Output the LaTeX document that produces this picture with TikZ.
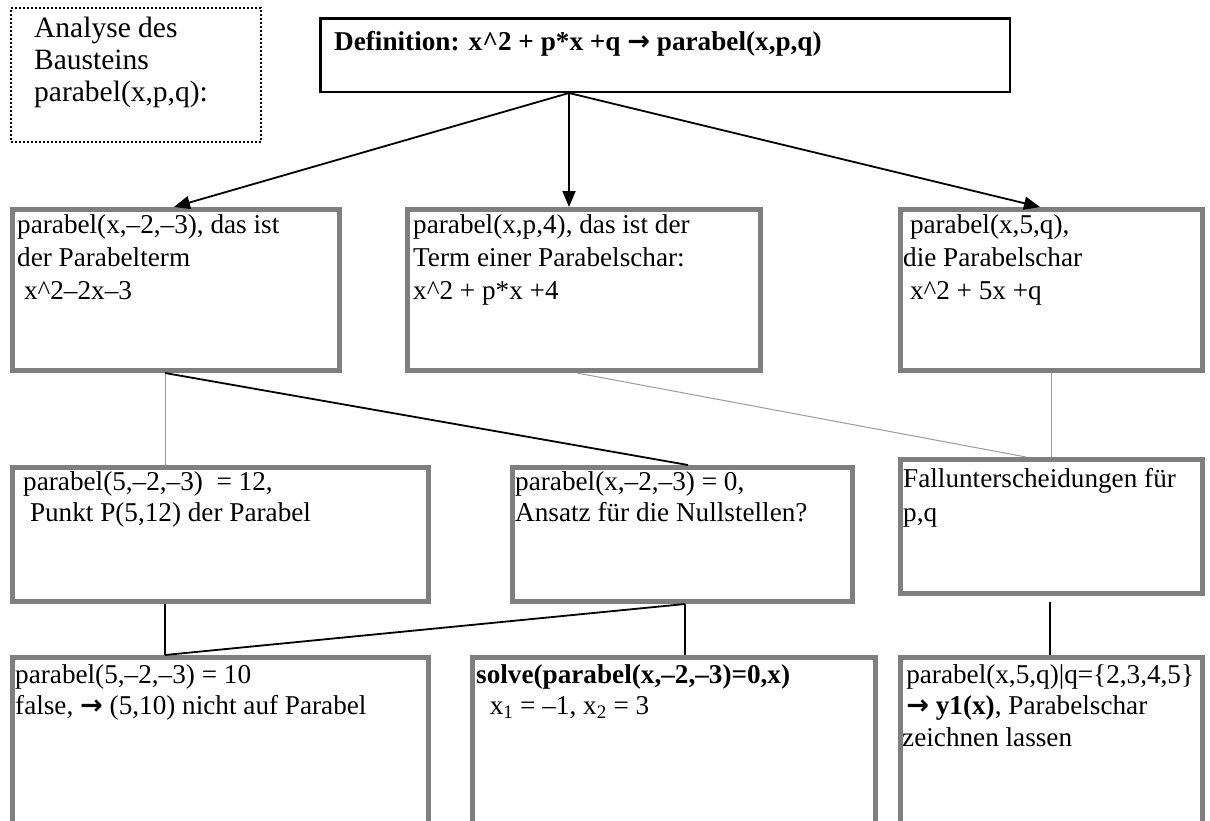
\documentclass[tikz,border=0pt]{standalone}
\usepackage{fontspec}
\setmainfont{Liberation Serif}
\newfontfamily\arrowfont{DejaVu Sans}
\usetikzlibrary{arrows.meta}
\definecolor{framegray}{HTML}{7F7F7F}
\definecolor{thingray}{HTML}{9A9A9A}
\newcommand\thickarrow{{\arrowfont\bfseries →}}
\newcommand\caret{\textasciicircum}

\begin{document}
\begin{tikzpicture}[x=1pt,y=-1pt,
  every node/.style={font=\fontsize{27.2}{31.5}\selectfont},
  frame/.style={draw=framegray, line width=5pt, outer sep=2.5pt, inner sep=0pt, anchor=north west},
  defframe/.style={draw=black, line width=2.5pt, outer sep=1.25pt, inner sep=0pt, anchor=north west},
  noteframe/.style={draw=black, line width=2pt, dash pattern=on 2pt off 2pt, outer sep=1pt, inner sep=0pt, anchor=north west},
  inner text/.style={inner sep=0pt, anchor=north west, align=left},
  link/.style={draw=black, line width=1.8pt},
  faint/.style={draw=thingray, line width=1pt},
  tip/.style={link, -{Triangle[length=16pt,width=13pt]}}]
\useasboundingbox (0,0) rectangle (1210,820);
\clip (0,0) rectangle (1210,820);

% title note and definition
\node[noteframe, minimum width=250pt, minimum height=134pt] (note) at (10,7) {};
\node[inner text, font=\fontsize{29.5}{32}\selectfont] (notet) at ([shift={(24,10)}]note.north west)
  {Analyse des\\Bausteins\\parabel(x,p,q):};

\node[defframe, minimum width=689.5pt, minimum height=73.5pt] (def) at (319,17) {};
\node[inner text, font=\fontsize{27.2}{31.5}\selectfont\bfseries] (deft) at ([shift={(15,14)}]def.north west)
  {Definition: x\caret 2 + p*x +q \thickarrow{} parabel(x,p,q)};

% second row
\node[frame, minimum width=327pt, minimum height=161pt] (l2) at (10,207) {};
\node[inner text, font=\fontsize{27.2}{33}\selectfont] (l2t) at ([shift={(7,7)}]l2.north west)
  {parabel(x,–2,–3), das ist\\der Parabelterm\\\hspace*{.25em}x\caret 2–2x–3};

\node[frame, minimum width=353pt, minimum height=161pt] (m2) at (405,207) {};
\node[inner text, font=\fontsize{27.2}{33}\selectfont] (m2t) at ([shift={(8,7)}]m2.north west)
  {parabel(x,p,4), das ist der\\Term einer Parabelschar:\\x\caret 2 + p*x +4};

\node[frame, minimum width=302pt, minimum height=161pt] (r2) at (898,207) {};
\node[inner text, font=\fontsize{27.2}{33}\selectfont] (r2t) at ([shift={(5,7)}]r2.north west)
  {\hspace*{.25em}parabel(x,5,q),\\die Parabelschar\\\hspace*{.25em}x\caret 2 + 5x +q};

% third row
\node[frame, minimum width=416pt, minimum height=134pt] (l3) at (10,465) {};
\node[inner text] (l3t) at ([shift={(13,6)}]l3.north west)
  {parabel(5,–2,–3)\ \ = 12,\\\hspace*{.25em}Punkt P(5,12) der Parabel};

\node[frame, minimum width=340pt, minimum height=134pt] (m3) at (510,465) {};
\node[inner text] (m3t) at ([shift={(5,6)}]m3.north west)
  {parabel(x,–2,–3) = 0,\\Ansatz für die Nullstellen?};

\node[frame, minimum width=302pt, minimum height=134pt] (r3) at (898,457) {};
\node[inner text] (r3t) at ([shift={(5,11)}]r3.north west)
  {Fallunterscheidungen für\\[3pt]p,q};

% fourth row
\node[frame, minimum width=416pt, minimum height=200pt] (l4) at (10,655) {};
\node[inner text] (l4t) at ([shift={(5,9)}]l4.north west)
  {parabel(5,–2,–3) = 10\\false, \thickarrow{} (5,10) nicht auf Parabel};

\node[frame, minimum width=403pt, minimum height=200pt] (m4) at (470,655) {};
\node[inner text] (m4t) at ([shift={(6,9)}]m4.north west)
  {\textbf{solve(parabel(x,–2,–3)=0,x)}\\\hspace*{.5em}x\textsubscript{1} = –1, x\textsubscript{2} = 3};

\node[frame, minimum width=302pt, minimum height=200pt] (r4) at (898,655) {};
\node[inner text] (r4t) at ([shift={(4,9)}]r4.north west)
  {\hspace*{.15em}parabel(x,5,q)|q=\{2,3,4,5\}\\\hspace*{.15em}\thickarrow{} \textbf{y1(x)}, Parabelschar\\zeichnen lassen};

% arrows from the definition
\draw[tip] ([xshift=250pt]def.south west) -- ([xshift=164pt]l2.north west);
\draw[tip] ([xshift=250pt]def.south west) -- ([xshift=164pt]m2.north west);
\draw[tip] ([xshift=250pt]def.south west) -- ([xshift=142pt]r2.north west);

% links between the rows
\draw[faint] ([xshift=155pt]l2.south west) -- ([xshift=155pt]l3.north west);
\draw[link]  ([xshift=155pt]l2.south west) -- ([xshift=178pt]m3.north west);
\draw[faint] ([xshift=172pt]m2.south west) -- ([xshift=128pt]r3.north west);
\draw[faint] ([xshift=153pt]r2.south west) -- ([xshift=153pt]r3.north west);

\draw[link] ([xshift=155pt]l3.south west) -- ([xshift=155pt]l4.north west);
\draw[link] ([xshift=175pt]m3.south west) -- ([xshift=155pt]l4.north west);
\draw[link] ([xshift=175pt]m3.south west) -- ([xshift=215pt]m4.north west);
\draw[link, shorten <=6pt] ([xshift=152pt]r3.south west) -- ([xshift=152pt]r4.north west);
\end{tikzpicture}
\end{document}
